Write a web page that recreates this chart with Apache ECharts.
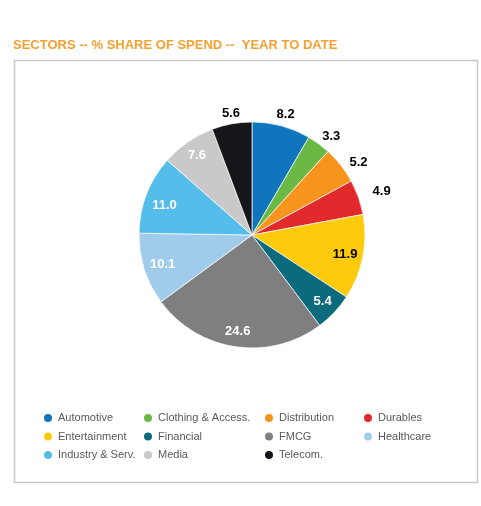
<!DOCTYPE html>
<html>
<head>
<meta charset="utf-8">
<script src="https://cdn.jsdelivr.net/npm/echarts@6/dist/echarts.min.js"></script>
<style>
html,body{margin:0;padding:0;background:#fff;}
#chart{width:481px;height:506px;}
</style>
</head>
<body>
<div id="chart"></div>
<script>
const titleText = 'SECTORS -- % SHARE OF SPEND --  YEAR TO DATE';
const categories = ['Automotive','Clothing & Access.','Distribution','Durables','Entertainment','Financial','FMCG','Healthcare','Industry & Serv.','Media','Telecom.'];
const values = [8.2, 3.3, 5.2, 4.9, 11.9, 5.4, 24.6, 10.1, 11.0, 7.6, 5.6];
const colors = ['#0f75bd','#6cb845','#f7941d','#e2292b','#fdca0c','#0b6a7b','#7f7f7f','#a0cbea','#55bde9','#c9c9c9','#16161a'];
const labelPlacement = ['out','out','out','out','in','in','in','in','in','in','out'];
const labelColors = ['#000','#000','#000','#000','#000','#fff','#fff','#fff','#fff','#fff','#000'];
const labelNudge = {
  'Automotive':[0,4], 'Clothing & Access.':[3,5], 'Distribution':[5,7], 'Durables':[8,0],
  'Telecom.':[2,5], 'Entertainment':[-2,0], 'Industry & Serv.':[3,5], 'Healthcare':[3,0]
};
const legendColumns = [
  ['Automotive','Entertainment','Industry & Serv.'],
  ['Clothing & Access.','Financial','Media'],
  ['Distribution','FMCG','Telecom.'],
  ['Durables','Healthcare']
];
const legendLefts = [42, 142, 263, 362];

const FONT = '"Liberation Sans", Arial, Helvetica, sans-serif';
const center = [252, 235];

const mainData = categories.map((n, i) => ({name: n, value: values[i], itemStyle: {color: colors[i]}}));
function labelData(which) {
  return categories.map((n, i) => ({
    name: n, value: values[i],
    itemStyle: {color: 'rgba(0,0,0,0)', borderWidth: 0},
    label: {
      show: labelPlacement[i] === which,
      color: labelColors[i],
      offset: labelNudge[n] || [0, 0]
    }
  }));
}
const labelSeriesBase = {
  type: 'pie', center: center, silent: true, z: 5,
  startAngle: 90, clockwise: true,
  label: {position: 'inside', fontFamily: FONT, fontWeight: 'bold', fontSize: 13,
    formatter: p => p.value.toFixed(1), textBorderWidth: 0},
  labelLine: {show: false},
  emphasis: {disabled: true},
  tooltip: {show: false}
};

const chart = echarts.init(document.getElementById('chart'), null, {renderer: 'canvas'});
chart.setOption({
  animation: false,
  backgroundColor: '#fff',
  title: {
    text: titleText, left: 13, top: 39, padding: 0,
    textStyle: {color: '#f6a030', fontFamily: FONT, fontWeight: 'bold', fontSize: 13}
  },
  graphic: [{
    type: 'rect', z: -1,
    shape: {x: 14.5, y: 60.5, width: 463, height: 422},
    style: {fill: 'none', stroke: '#c8c8c8', lineWidth: 1.5}
  }],
  legend: legendColumns.map((col, k) => ({
    data: col, orient: 'vertical', left: legendLefts[k], top: 412,
    padding: 0, itemWidth: 10, itemHeight: 10, itemGap: 6.5, icon: 'circle',
    selectedMode: false,
    textStyle: {fontFamily: FONT, fontSize: 11, color: '#595959'}
  })),
  series: [
    {
      type: 'pie', name: 'main', center: center, radius: [0, 113],
      startAngle: 90, clockwise: true,
      data: mainData,
      itemStyle: {borderColor: '#fff', borderWidth: 0.7},
      label: {show: false}, labelLine: {show: false},
      emphasis: {disabled: true}
    },
    Object.assign({}, labelSeriesBase, {name: 'inLabels', radius: [75, 113], data: labelData('in')}),
    Object.assign({}, labelSeriesBase, {name: 'outLabels', radius: [113, 139], data: labelData('out')})
  ]
});
</script>
</body>
</html>
